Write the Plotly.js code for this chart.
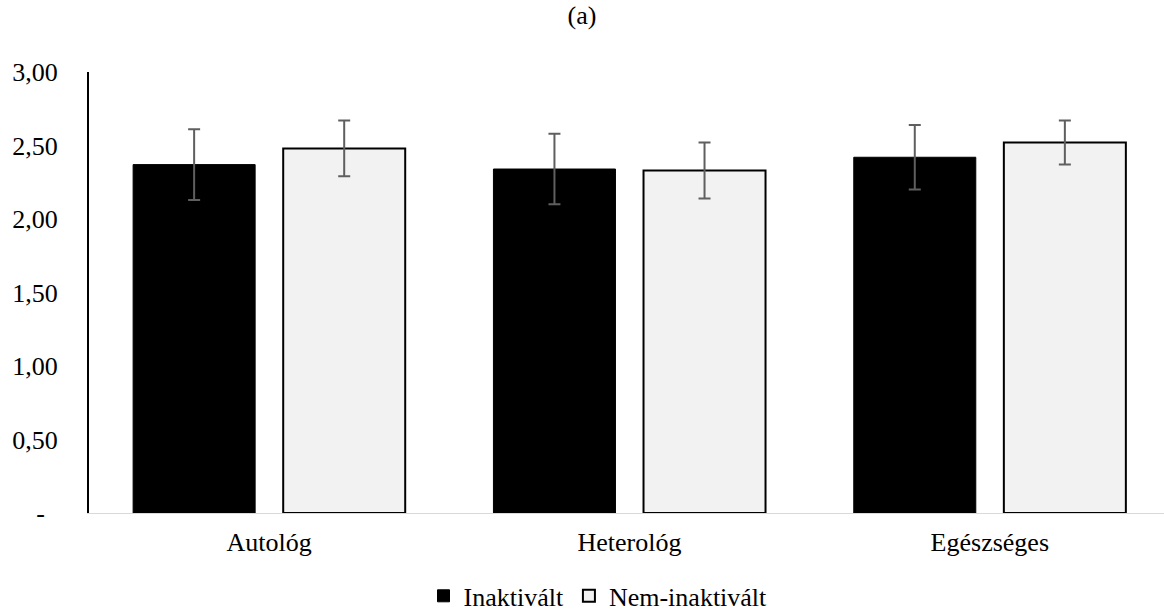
<!DOCTYPE html>
<html>
<head>
<meta charset="utf-8">
<script src="https://cdn.plot.ly/plotly-3.0.1.min.js"></script>
<style>html,body{margin:0;padding:0;background:#fff;}#chart{width:1164px;height:614px;}</style>
</head>
<body>
<div id="chart"></div>
<script>
const categories = ["Autológ", "Heterológ", "Egészséges"];
const seriesNames = ["Inaktivált", "Nem-inaktivált"];
const inaktivaltValues = [2.37, 2.34, 2.42];
const inaktivaltErrors = [0.24, 0.24, 0.22];
const nemInaktivaltValues = [2.48, 2.33, 2.52];
const nemInaktivaltErrors = [0.19, 0.19, 0.15];
const yTickValues = [0, 0.5, 1, 1.5, 2, 2.5, 3];
const yTickLabels = ["<span style=\"color:#ffffff\">0,</span>-<span style=\"color:#ffffff\">0</span>", "0,50", "1,00", "1,50", "2,00", "2,50", "3,00"];
const titleText = "(a)";

const FONT = "Liberation Serif";
const categoryIndex = categories.map((c, i) => i);

const traces = [
  {
    type: "bar",
    name: seriesNames[0],
    x: categoryIndex,
    y: inaktivaltValues,
    marker: {color: "#000000", line: {color: "#000000", width: 1}},
    error_y: {type: "data", array: inaktivaltErrors, visible: true, color: "#5f5f5f", thickness: 2, width: 6}
  },
  {
    type: "bar",
    name: seriesNames[1],
    x: categoryIndex,
    y: nemInaktivaltValues,
    marker: {color: "#f2f2f2", line: {color: "#000000", width: 2}},
    error_y: {type: "data", array: nemInaktivaltErrors, visible: true, color: "#5f5f5f", thickness: 2, width: 6}
  }
];

const layout = {
  width: 1164,
  height: 614,
  margin: {l: 89, r: 0, t: 72, b: 101, autoexpand: false},
  paper_bgcolor: "#ffffff",
  plot_bgcolor: "#ffffff",
  font: {family: FONT, size: 26, color: "#000000"},
  title: {text: titleText, font: {family: FONT, size: 26, color: "#000000"}, x: 0.5, xref: "container", xanchor: "center", y: 0.975, yref: "container", yanchor: "middle"},
  barmode: "group",
  bargap: 0.167,
  bargroupgap: 0.187,
  showlegend: true,
  legend: {orientation: "h", x: 0.4735, xref: "paper", xanchor: "center", y: -0.188, yref: "paper", yanchor: "middle", font: {family: FONT, size: 26, color: "#000000"}, itemwidth: 30, traceorder: "normal"},
  xaxis: {
    type: "linear",
    autorange: false,
    range: [-0.5, 2.4834],
    tickmode: "array",
    tickvals: categoryIndex,
    ticktext: categories,
    showline: true,
    linecolor: "#d9d9d9",
    linewidth: 1,
    ticks: "",
    showgrid: false,
    zeroline: false,
    tickfont: {family: FONT, size: 26, color: "#000000"},
    ticklabelstandoff: 6
  },
  yaxis: {
    autorange: false,
    range: [0, 3],
    tickmode: "array",
    tickvals: yTickValues,
    ticktext: yTickLabels,
    showline: true,
    linecolor: "#000000",
    linewidth: 2,
    ticks: "outside",
    ticklen: 24,
    tickcolor: "rgba(0,0,0,0)",
    showgrid: false,
    zeroline: false,
    tickfont: {family: FONT, size: 26, color: "#000000"}
  }
};

Plotly.newPlot("chart", traces, layout, {displayModeBar: false, staticPlot: true});
</script>
</body>
</html>
